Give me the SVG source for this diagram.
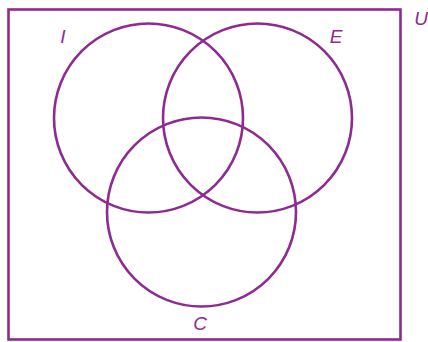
<svg xmlns="http://www.w3.org/2000/svg" width="428" height="342" viewBox="0 0 428 342">
<style>
.s{fill:none;stroke:#8E2A91;stroke-width:2.6}
.t{fill:#8E2A91;font-family:"Liberation Sans",Arial,sans-serif;font-style:italic;font-size:19px;text-anchor:middle}
</style>
<rect width="428" height="342" fill="#fff"/>
<g id="U"><rect class="s" x="8.5" y="9.5" width="392" height="330"/><text class="t" x="421" y="25">U</text></g>
<g id="I"><circle class="s" cx="148.5" cy="118" r="94.5"/><text class="t" x="63" y="43">I</text></g>
<g id="E"><circle class="s" cx="257.5" cy="118" r="94.5"/><text class="t" x="336" y="43">E</text></g>
<g id="C"><circle class="s" cx="201.5" cy="212" r="94.5"/><text class="t" x="200" y="330">C</text></g>
<g id="connectors"/>
</svg>
